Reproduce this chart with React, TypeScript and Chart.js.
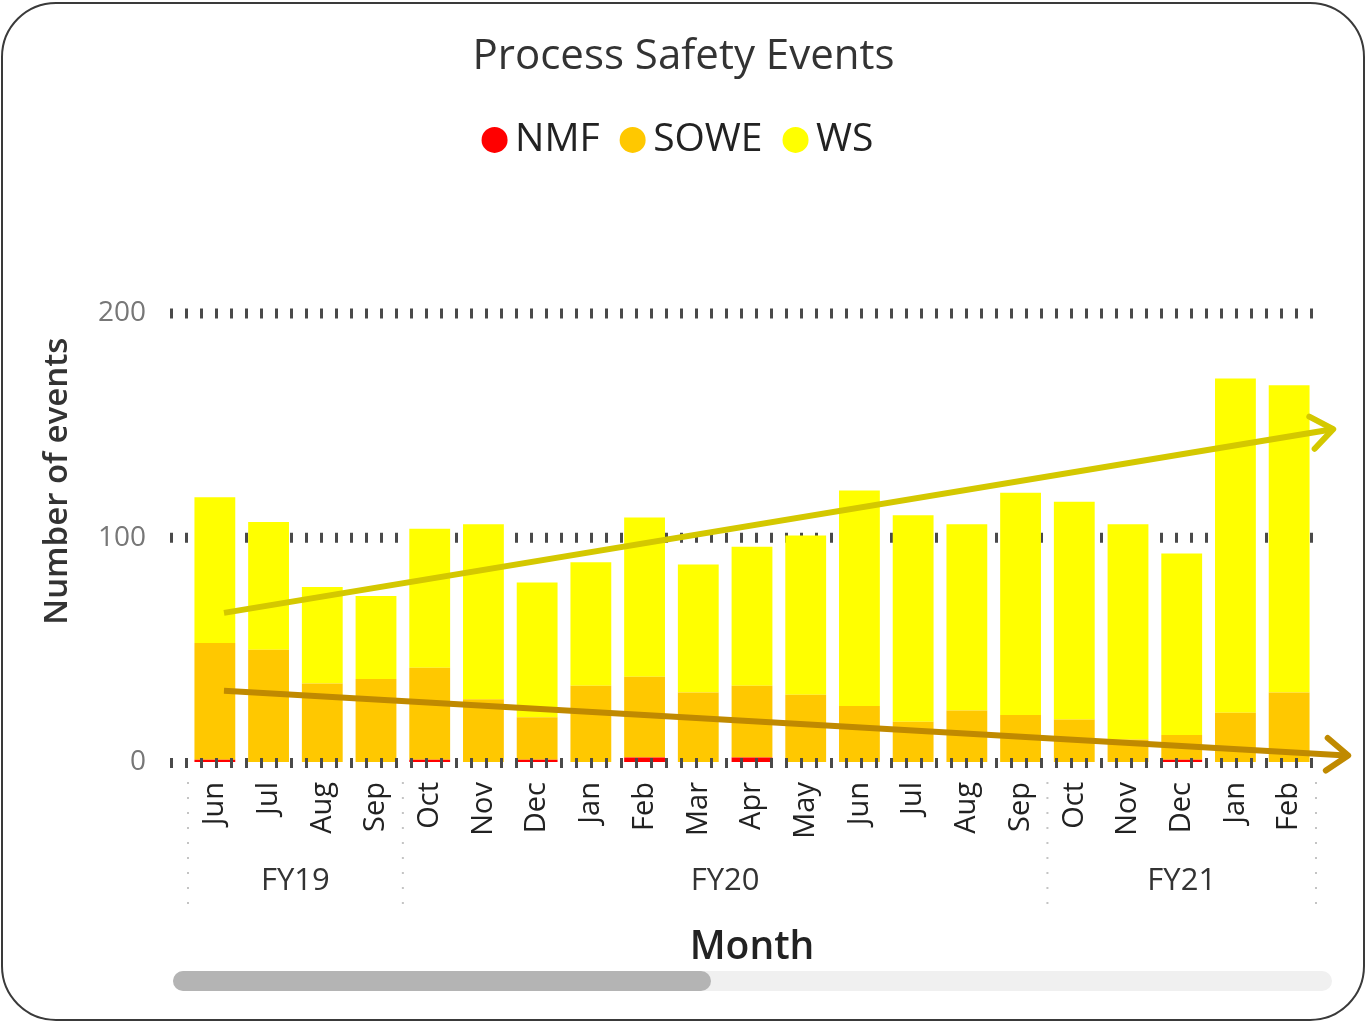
import React, { useEffect, useRef } from 'react';
import { Chart, registerables } from 'chart.js';

Chart.register(...registerables);

const FONT = "'Open Sans', 'Noto Sans', sans-serif";

// Categories (months) and their fiscal-year groups
const months = ['Jun', 'Jul', 'Aug', 'Sep', 'Oct', 'Nov', 'Dec', 'Jan', 'Feb', 'Mar', 'Apr', 'May', 'Jun', 'Jul', 'Aug', 'Sep', 'Oct', 'Nov', 'Dec', 'Jan', 'Feb'];
const fiscalYears = ['FY19', 'FY20', 'FY21'];
const fiscalYearMonthCounts = [4, 12, 5];

// Series values
const nmf = [1, 0, 0, 0, 1, 0, 1, 0, 2, 0, 2, 0, 0, 0, 0, 0, 0, 0, 1, 0, 0];
const sowe = [52, 50, 35, 37, 41, 28, 19, 34, 36, 31, 32, 30, 25, 18, 23, 21, 19, 10, 11, 22, 31];
const ws = [65, 57, 43, 37, 62, 78, 60, 55, 71, 57, 62, 71, 96, 92, 83, 99, 97, 96, 81, 149, 137];

// Axis ticks
const yTicks = [0, 100, 200];

// Hand-drawn trend arrows, in data space (x = category index, y = events)
const wsTrendX = [0.17, 20.82];
const wsTrendY = [66.5, 148.4];
const soweTrendX = [0.17, 21.1];
const soweTrendY = [31.8, 2.9];

const COLORS = { nmf: '#FF0000', sowe: '#FFC800', ws: '#FFFF00' };

function drawArrow(ctx: CanvasRenderingContext2D, x0: number, y0: number, x1: number, y1: number, color: string, width: number) {
  const ang = Math.atan2(y1 - y0, x1 - x0);
  ctx.save();
  ctx.strokeStyle = color;
  ctx.lineWidth = width;
  ctx.lineCap = 'butt';
  ctx.beginPath();
  ctx.moveTo(x0, y0);
  ctx.lineTo(x1 - Math.cos(ang) * 2, y1 - Math.sin(ang) * 2);
  ctx.stroke();
  const len = 27;
  const spread = 0.65;
  ctx.lineCap = 'round';
  ctx.lineJoin = 'round';
  ctx.beginPath();
  ctx.moveTo(x1 - len * Math.cos(ang - spread), y1 - len * Math.sin(ang - spread));
  ctx.lineTo(x1, y1);
  ctx.lineTo(x1 - len * Math.cos(ang + spread), y1 - len * Math.sin(ang + spread));
  ctx.stroke();
  ctx.restore();
}

const decorPlugin = {
  id: 'decor',
  beforeDatasetsDraw(chart: any) {
    const { ctx, chartArea, scales } = chart;
    const y = scales.y;
    ctx.save();
    ctx.strokeStyle = '#4a4a4a';
    ctx.lineWidth = 10;
    ctx.setLineDash([3, 12]);
    for (const v of yTicks) {
      if (v === 0) continue;
      const py = y.getPixelForValue(v);
      ctx.beginPath();
      ctx.moveTo(chartArea.left - 18, py);
      ctx.lineTo(chartArea.right + 5, py);
      ctx.stroke();
    }
    ctx.restore();
  },
  afterDatasetsDraw(chart: any) {
    const { ctx, chartArea, scales } = chart;
    const x = scales.x;
    const y = scales.y;
    // baseline (dotted, over bars)
    ctx.save();
    ctx.strokeStyle = '#4a4a4a';
    ctx.lineWidth = 10;
    ctx.setLineDash([3, 12]);
    const p0 = y.getPixelForValue(0);
    ctx.beginPath();
    ctx.moveTo(chartArea.left - 18, p0 + 1);
    ctx.lineTo(chartArea.right + 5, p0 + 1);
    ctx.stroke();
    ctx.restore();
    // trend arrows
    drawArrow(ctx, x.getPixelForValue(wsTrendX[0]), y.getPixelForValue(wsTrendY[0]), x.getPixelForValue(wsTrendX[1]), y.getPixelForValue(wsTrendY[1]), '#D4C800', 6);
    drawArrow(ctx, x.getPixelForValue(soweTrendX[0]), y.getPixelForValue(soweTrendY[0]), x.getPixelForValue(soweTrendX[1]), y.getPixelForValue(soweTrendY[1]), '#C08A00', 6);
  },
  afterDraw(chart: any) {
    const { ctx, chartArea, scales } = chart;
    const x = scales.x;
    ctx.save();
    // fiscal year separators and labels
    let start = 0;
    const boundaries: number[] = [x.getPixelForValue(-0.5)];
    fiscalYears.forEach((fy, i) => {
      const end = start + fiscalYearMonthCounts[i] - 1;
      const left = x.getPixelForValue(start - 0.5);
      const right = x.getPixelForValue(end + 0.5);
      boundaries.push(right);
      ctx.fillStyle = '#333333';
      ctx.font = `31px ${FONT}`;
      ctx.textAlign = 'center';
      ctx.textBaseline = 'middle';
      ctx.fillText(fy, (left + right) / 2, chartArea.bottom + 119);
      start = end + 1;
    });
    ctx.strokeStyle = '#c4c4c4';
    ctx.lineWidth = 2;
    ctx.setLineDash([2, 13]);
    for (const bx of boundaries) {
      ctx.beginPath();
      ctx.moveTo(bx, chartArea.bottom + 20);
      ctx.lineTo(bx, chartArea.bottom + 148);
      ctx.stroke();
    }
    ctx.setLineDash([]);
    // y-axis title
    ctx.translate(chartArea.left - 130, chartArea.top + 0.374 * (chartArea.bottom - chartArea.top));
    ctx.rotate(-Math.PI / 2);
    ctx.fillStyle = '#333333';
    ctx.font = `600 33px ${FONT}`;
    ctx.textAlign = 'center';
    ctx.textBaseline = 'middle';
    ctx.fillText('Number of events', 0, 0);
    ctx.restore();
  },
};

export default function App() {
  const canvasRef = useRef<HTMLCanvasElement | null>(null);

  useEffect(() => {
    if (!canvasRef.current) return;
    const chart = new Chart(canvasRef.current, {
      type: 'bar',
      data: {
        labels: months,
        datasets: [
          { label: 'NMF', data: nmf, backgroundColor: COLORS.nmf, borderWidth: 0, barPercentage: 0.76, categoryPercentage: 1 },
          { label: 'SOWE', data: sowe, backgroundColor: COLORS.sowe, borderWidth: 0, barPercentage: 0.76, categoryPercentage: 1 },
          { label: 'WS', data: ws, backgroundColor: COLORS.ws, borderWidth: 0, barPercentage: 0.76, categoryPercentage: 1 },
        ],
      },
      options: {
        responsive: false,
        animation: false,
        layout: { padding: { left: 0, right: 0, top: 0, bottom: 0 } },
        plugins: {
          title: {
            display: true,
            text: 'Process Safety Events',
            color: '#333333',
            font: { family: FONT, size: 42, weight: 'normal' },
            padding: { top: 32, bottom: 6 },
          },
          subtitle: {
            display: true,
            text: '',
            weight: 500,
            font: { size: 10, lineHeight: 1 },
            padding: { top: 0, bottom: 134 },
          } as any,
          legend: {
            display: true,
            position: 'top',
            labels: {
              usePointStyle: true,
              pointStyle: 'circle',
              boxWidth: 2,
              boxHeight: 18.4,
              padding: 32,
              color: '#222222',
              font: { family: FONT, size: 39 },
            },
          },
          tooltip: { enabled: false },
        },
        scales: {
          x: {
            stacked: true,
            grid: { display: false, drawTicks: false },
            border: { display: false },
            ticks: {
              autoSkip: false,
              minRotation: 90,
              maxRotation: 90,
              padding: 20,
              color: '#222222',
              font: { family: FONT, size: 29 },
            },
            title: {
              display: true,
              text: 'Month',
              color: '#222222',
              font: { family: FONT, size: 39, weight: '600' },
              padding: { top: 0, bottom: 52 },
            },
            afterFit: (s: any) => { s.height = 261; },
          },
          y: {
            stacked: true,
            min: 0,
            max: 200,
            grid: { display: false, drawTicks: false },
            border: { display: false },
            ticks: {
              stepSize: 100,
              padding: 42,
              color: '#777777',
              font: { family: FONT, size: 28 },
            },
            afterFit: (s: any) => { s.width = 188; },
          },
          yRightSpace: {
            type: 'linear',
            position: 'right',
            display: true,
            grid: { display: false, drawTicks: false },
            border: { display: false },
            ticks: { display: false },
            afterFit: (s: any) => { s.width = 51; },
          },
        },
      } as any,
      plugins: [decorPlugin],
    });
    return () => chart.destroy();
  }, []);

  return (
    <div style={{ position: 'absolute', left: 0, top: 0, width: 1367, height: 1023, background: '#ffffff', overflow: 'hidden' }}>
      <canvas ref={canvasRef} width={1367} height={1023} style={{ position: 'absolute', left: 0, top: 0, width: 1367, height: 1023 }} />
      <div style={{ position: 'absolute', left: 1, top: 2, width: 1364, height: 1019, boxSizing: 'border-box', border: '2px solid #3a3a3a', borderRadius: 55, pointerEvents: 'none' }} />
      <div style={{ position: 'absolute', left: 173, top: 971, width: 1159, height: 20, background: '#f0f0f0', borderRadius: 10 }} />
      <div style={{ position: 'absolute', left: 173, top: 971, width: 538, height: 20, background: '#b4b4b4', borderRadius: 10 }} />
    </div>
  );
}
